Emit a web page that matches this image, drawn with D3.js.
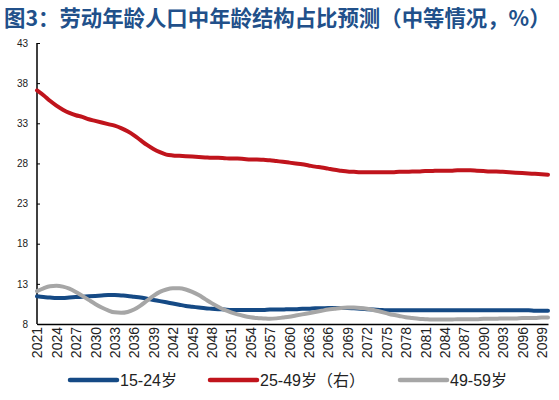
<!DOCTYPE html>
<html><head><meta charset="utf-8">
<script src="https://cdn.jsdelivr.net/npm/d3@7"></script>
<style>
html,body{margin:0;padding:0;background:#fff;}
svg{display:block;font-family:"Liberation Sans",Arial,"Noto Sans CJK SC",sans-serif;}
</style></head>
<body><svg id="c" width="559" height="400"></svg>
<script>
const years = d3.range(2021, 2101);
const tickYears = d3.range(2021, 2101, 3);
const yTicks = [8, 13, 18, 23, 28, 33, 38, 43];
const seriesNames = ["15-24岁", "25-49岁（右）", "49-59岁"];
const age15_24 = [11.45,11.35,11.3,11.25,11.25,11.3,11.35,11.4,11.45,11.5,
  11.55,11.6,11.6,11.55,11.5,11.4,11.3,11.15,11.0,10.85,
  10.7,10.55,10.4,10.25,10.15,10.05,9.95,9.9,9.85,9.8,
  9.75,9.75,9.75,9.75,9.75,9.75,9.8,9.8,9.8,9.85,
  9.85,9.9,9.9,9.95,9.95,10.0,10.0,10.0,10.0,9.95,
  9.9,9.85,9.8,9.75,9.7,9.7,9.7,9.7,9.7,9.7,
  9.7,9.7,9.7,9.7,9.7,9.7,9.7,9.7,9.7,9.7,
  9.7,9.7,9.7,9.7,9.7,9.7,9.7,9.65,9.65,9.65];
const age25_49 = [37.1,36.5,35.8,35.2,34.7,34.3,34.0,33.8,33.5,33.3,
  33.1,32.9,32.7,32.4,32.0,31.5,30.9,30.3,29.8,29.4,
  29.1,29.0,28.95,28.9,28.85,28.8,28.75,28.7,28.7,28.65,
  28.6,28.6,28.55,28.5,28.5,28.45,28.4,28.3,28.2,28.1,
  28.0,27.9,27.75,27.6,27.5,27.35,27.2,27.1,27.0,26.95,
  26.9,26.9,26.9,26.9,26.9,26.9,26.95,26.95,27.0,27.0,
  27.05,27.05,27.1,27.1,27.1,27.15,27.15,27.15,27.1,27.05,
  27.0,27.0,26.95,26.9,26.85,26.8,26.75,26.7,26.65,26.6];
const age49_59 = [12.1,12.45,12.7,12.75,12.65,12.4,12.0,11.5,11.0,10.5,
  10.05,9.7,9.45,9.4,9.5,9.8,10.3,10.9,11.5,12.0,
  12.3,12.45,12.45,12.3,12.0,11.6,11.1,10.6,10.15,9.75,
  9.45,9.2,9.0,8.85,8.75,8.7,8.65,8.7,8.8,8.9,
  9.05,9.2,9.35,9.5,9.65,9.8,9.9,10.0,10.05,10.05,
  10.0,9.9,9.75,9.55,9.35,9.15,9.0,8.85,8.75,8.65,
  8.6,8.55,8.55,8.55,8.55,8.6,8.6,8.6,8.6,8.65,
  8.65,8.65,8.7,8.7,8.7,8.75,8.75,8.75,8.8,8.8];

const colors = ["#154a85", "#c0141c", "#a6a6a6"];
const data = [age15_24, age25_49, age49_59];

const svg = d3.select("#c");
const x = d3.scalePoint().domain(years).range([37, 548]);
const y = d3.scaleLinear().domain([8, 43]).range([324, 43]);

svg.append("text").attr("x", 4).attr("y", 26)
  .attr("fill", "#21508a").attr("font-weight", "bold")
  .attr("font-size", 21.4)
  .attr("font-family", "'Noto Sans CJK SC','Liberation Sans',sans-serif")
  .text("图3：劳动年龄人口中年龄结构占比预测（中等情况，%）");

// Y axis
const ya = svg.append("g").attr("transform", "translate(37,0)")
  .call(d3.axisLeft(y).tickValues(yTicks).tickSize(-3).tickPadding(9).tickFormat(d3.format("d")));
ya.select(".domain").attr("stroke", "#000").attr("stroke-width", 1.5).attr("d", "M0,324V43");
ya.selectAll(".tick line").attr("stroke", "#000");
ya.selectAll(".tick text").attr("font-size", 10).attr("fill", "#222");

// X axis
const xa = svg.append("g").attr("transform", "translate(0,324)")
  .call(d3.axisBottom(x).tickValues(tickYears).tickSize(0).tickPadding(0));
xa.select(".domain").attr("stroke", "#000").attr("stroke-width", 1.5);
xa.selectAll(".tick text")
  .attr("font-size", 14).attr("fill", "#222")
  .attr("transform", "rotate(-90)")
  .attr("text-anchor", "end")
  .attr("x", -3).attr("y", 0).attr("dy", "0.35em");

// Lines
const line = d3.line().x((d, i) => x(years[i])).y(d => y(d)).curve(d3.curveMonotoneX);
const order = [0, 2, 1];
order.forEach(k => {
  svg.append("path").datum(data[k])
    .attr("d", line).attr("fill", "none")
    .attr("stroke", colors[k]).attr("stroke-width", 4)
    .attr("stroke-linecap", "round");
});

// Legend
const legX = [70, 210, 400];
seriesNames.forEach((n, k) => {
  svg.append("line").attr("x1", legX[k]).attr("x2", legX[k] + 47)
    .attr("y1", 380).attr("y2", 380)
    .attr("stroke", colors[k]).attr("stroke-width", 4.5).attr("stroke-linecap", "round");
  svg.append("text").attr("x", legX[k] + 50).attr("y", 380).attr("dy", "0.36em")
    .attr("font-size", 16).attr("fill", "#222").text(n);
});
</script></body></html>
